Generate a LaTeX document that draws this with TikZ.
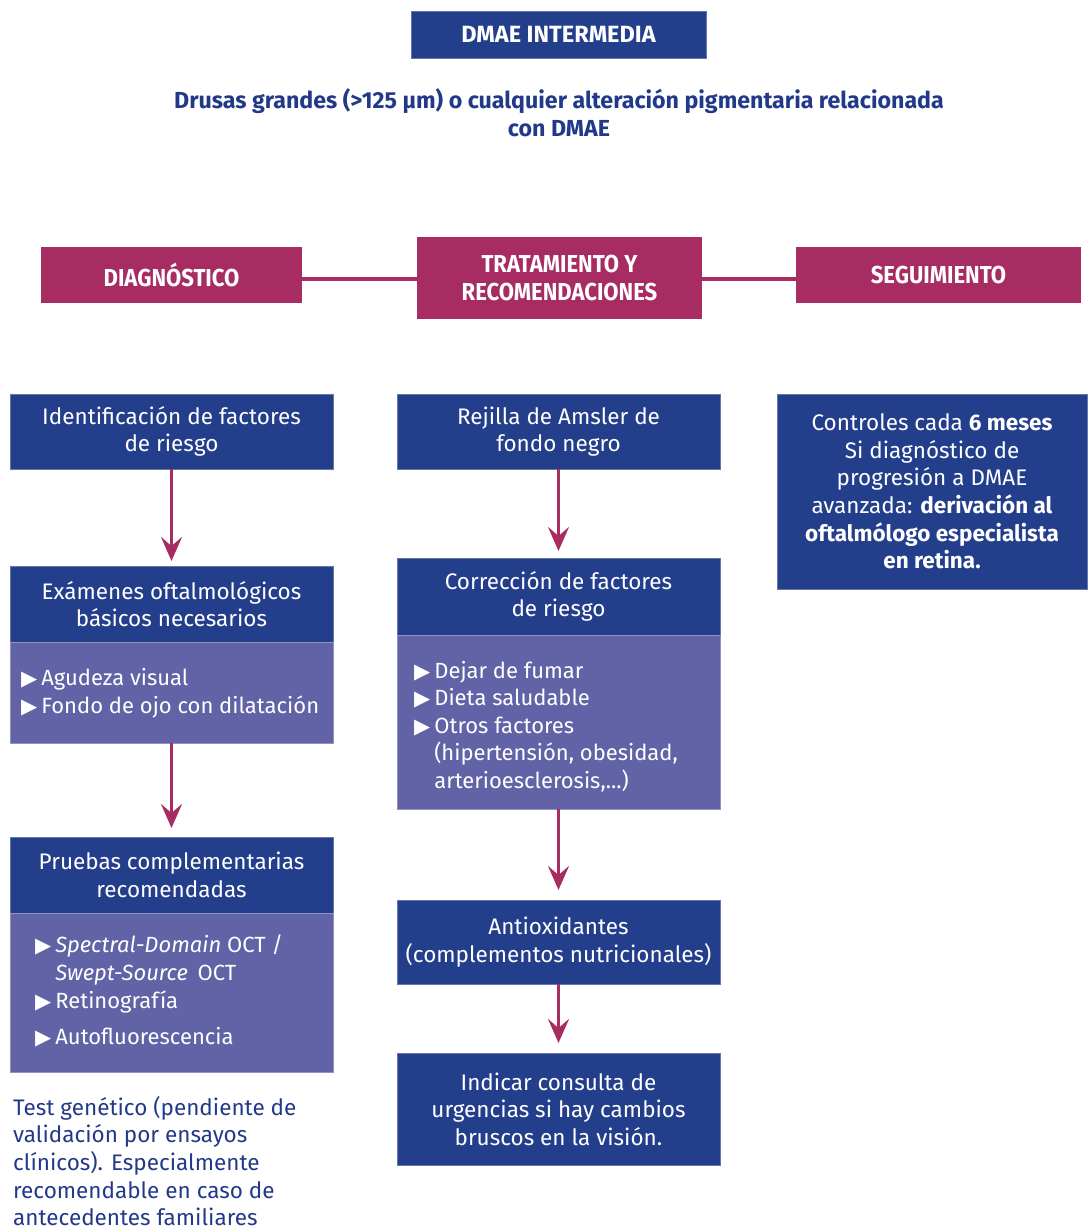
\documentclass[tikz,border=0pt]{standalone}
\usepackage{fontspec}
\setmainfont{Fira Sans}
\newfontfamily\condfont[FakeStretch=0.9]{Fira Sans}
\newfontfamily\symfont{DejaVu Sans}
\usetikzlibrary{arrows.meta}
\definecolor{dblue}{HTML}{233E8B}
\definecolor{lpurple}{HTML}{6163A6}
\definecolor{mag}{HTML}{A72C62}
\definecolor{tblue}{HTML}{22398A}
\newcommand{\mybul}{{\symfont\fontsize{21}{21}\selectfont ▶}\hspace{4pt}}
\tikzset{
  base/.style={inner sep=0pt, outer sep=0pt, text=white, align=center, font=\fontsize{22.5}{27.6}\selectfont},
  bluebox/.style={base, fill=dblue, draw=dblue!70!white, line width=0.6pt},
  lightbox/.style={base, fill=lpurple, draw=lpurple!70!white, line width=0.6pt},
  magbox/.style={base, fill=mag, font=\condfont\bfseries\fontsize{24.5}{28}\selectfont},
  magline/.style={draw=mag, line width=4pt},
  arr/.style={draw=mag, line width=3pt, -{Stealth[length=24pt,width=21pt,inset=9pt]}},
  bultext/.style={text=white, align=left, inner sep=0pt, anchor=north west, font=\fontsize{22}{28}\selectfont}
}
\begin{document}
\begin{tikzpicture}[x=1pt,y=-1pt]
\useasboundingbox (0,0) rectangle (1087,1230);
% title
\node[bluebox, font=\bfseries\fontsize{23.5}{25}\selectfont, minimum width=295pt, minimum height=47pt] (title) at (558.5,34.5) {DMAE INTERMEDIA};
\node[text=tblue, align=center, inner sep=0pt, font=\bfseries\fontsize{23.2}{28}\selectfont] (sub) at (559,113) {Drusas grandes (>125 µm) o cualquier alteración pigmentaria relacionada\\con DMAE};
% section headers
\node[magbox, minimum width=261pt, minimum height=56pt] (diag) at (171.5,275) {DIAGNÓSTICO};
\node[magbox, minimum width=285pt, minimum height=82pt] (trat) at (559.5,278) {TRATAMIENTO Y\\RECOMENDACIONES};
\node[magbox, minimum width=285pt, minimum height=56pt] (seg) at (938.5,275) {SEGUIMIENTO};
\draw[magline] (diag.east |- 0,279) -- (trat.west |- 0,279);
\draw[magline] (trat.east |- 0,279) -- (seg.west |- 0,279);
% column 1
\node[bluebox, minimum width=323pt, minimum height=75pt] (c1a) at (171.5,431.5) {Identificación de factores\\de riesgo};
\node[bluebox, minimum width=323pt, minimum height=76pt] (c1b) at (171.5,604) {Exámenes oftalmológicos\\básicos necesarios};
\node[lightbox, minimum width=323pt, minimum height=101pt] (c1bl) at (171.5,692.5) {};
\node[bultext] (c1bt) at (21,668) {\mybul Agudeza visual\\\mybul Fondo de ojo con dilatación};
\node[bluebox, minimum width=323pt, minimum height=76pt] (c1c) at (171.5,875) {Pruebas complementarias\\recomendadas};
\node[lightbox, minimum width=323pt, minimum height=159pt] (c1cl) at (171.5,992.5) {};
\node[bultext] (c1ct) at (35,935) {\mybul\textit{Spectral-Domain} OCT /\\\hphantom{\mybul}\textit{Swept-Source}\, OCT\\\mybul Retinografía\\[8pt]\mybul Autofluorescencia};
\node[text=tblue, align=left, inner sep=0pt, anchor=north west, font=\fontsize{22.5}{27.6}\selectfont] (gen) at (13,1096) {Test genético (pendiente de\\validación por ensayos\\clínicos). Especialmente\\recomendable en caso de\\antecedentes familiares};
\draw[arr, shorten >=5pt] (c1a.south) -- (c1b.north);
\draw[arr, shorten >=9pt] (c1bl.south) -- (c1c.north);
% column 2
\node[bluebox, minimum width=323pt, minimum height=75pt] (c2a) at (558.5,431.5) {Rejilla de Amsler de\\fondo negro};
\node[bluebox, minimum width=323pt, minimum height=77pt] (c2b) at (558.5,596.5) {Corrección de factores\\de riesgo};
\node[lightbox, minimum width=323pt, minimum height=174pt] (c2bl) at (558.5,722) {};
\node[bultext, font=\fontsize{22}{27.5}\selectfont] (c2bt) at (414,661) {\mybul Dejar de fumar\\\mybul Dieta saludable\\\mybul Otros factores\\\hphantom{\mybul}(hipertensión, obesidad,\\\hphantom{\mybul}arterioesclerosis,...)};
\node[bluebox, minimum width=323pt, minimum height=84pt] (c2c) at (558.5,942) {Antioxidantes\\(complementos nutricionales)};
\node[bluebox, minimum width=323pt, minimum height=112pt] (c2d) at (558.5,1109) {Indicar consulta de\\urgencias si hay cambios\\bruscos en la visión.};
\draw[arr, shorten >=7pt] (c2a.south) -- (c2b.north);
\draw[arr, shorten >=10pt] (c2bl.south) -- (c2c.north);
\draw[arr, shorten >=10pt] (c2c.south) -- (c2d.north);
% column 3
\node[bluebox, minimum width=310pt, minimum height=195pt] (c3) at (932,491.5) {Controles cada \textbf{6 meses}\\Si diagnóstico de\\progresión a DMAE\\avanzada: \textbf{derivación al}\\\textbf{oftalmólogo especialista}\\\textbf{en retina.}};
\end{tikzpicture}
\end{document}
